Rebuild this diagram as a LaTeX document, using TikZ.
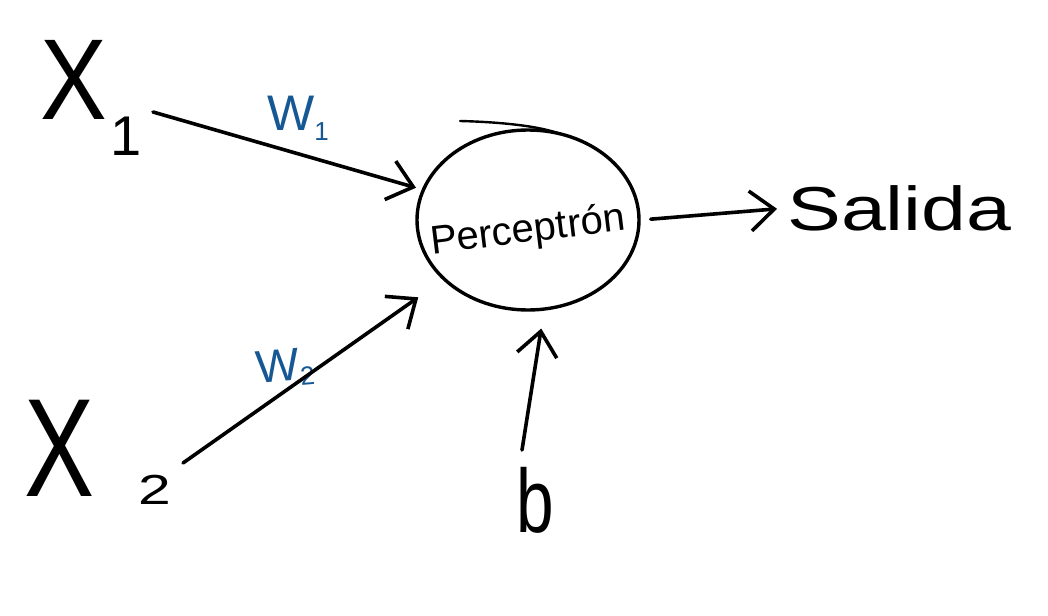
\documentclass[tikz,border=0pt]{standalone}
\usepackage{fontspec}
\setmainfont{Liberation Sans}
\usetikzlibrary{arrows.meta,shapes.geometric}
\definecolor{wblue}{RGB}{22,88,148}
\tikzset{
  stroke/.style={line width=3.6pt,line cap=round,line join=round,black},
  arr/.style={stroke,-{Straight Barb[length=24pt,width=40pt,line width=3.6pt]}},
  lbl/.style={inner sep=0pt,text=black},
  wlbl/.style={inner sep=0pt,text=wblue},
}
\begin{document}
\begin{tikzpicture}[x=1pt,y=-1pt]
\useasboundingbox (0,0) rectangle (1048,615);
% perceptron
\node[ellipse,draw,line width=3.4pt,minimum width=222pt,minimum height=180pt,inner sep=0pt] (p) at (528,220)
  {\makebox[0pt]{\smash{\raisebox{-34pt}{\rotatebox{7}{\fontsize{40}{40}\selectfont Perceptrón}}}}};
\draw[stroke,line width=2.4pt] (460,121) .. controls (500,122) and (540,126) .. (560,134);
% inputs
\node[lbl,yscale=1.15] (x1) at (74,80) {\fontsize{100}{100}\selectfont X};
\node[lbl] (s1) at (126,136) {\fontsize{56}{56}\selectfont 1};
\node[lbl,xscale=0.75] (x2) at (60,448) {\fontsize{140}{140}\selectfont X};
\node[lbl,xscale=1.4] (s2) at (155,490) {\fontsize{42}{42}\selectfont 2};
\node[wlbl] (w1) at (298,118) {\fontsize{50}{50}\selectfont W\raisebox{-10pt}{\fontsize{26}{26}\selectfont 1}};
\node[wlbl,rotate=5] (w2) at (285,368) {\fontsize{46}{46}\selectfont W\raisebox{-6pt}{\fontsize{26}{26}\selectfont 2}};
% output and bias
\node[lbl,xscale=1.3,anchor=west] (sal) at (787,208) {\fontsize{62}{62}\selectfont Salida};
\node[lbl,xscale=0.75] (b) at (535,500) {\fontsize{90}{90}\selectfont b};
% connectors
\coordinate (a1) at (153,112);
\coordinate (a2) at (183,463);
\coordinate (a3) at (522,450);
\draw[arr,shorten >=6pt] (a1) -- (p);
\draw[arr,shorten >=30pt] (a2) -- (p);
\draw[arr,shorten <=10pt,shorten >=10pt] (p.east) -- (sal.west);
\draw[arr,shorten >=18pt] (a3) -- (p.-80);
\end{tikzpicture}
\end{document}
